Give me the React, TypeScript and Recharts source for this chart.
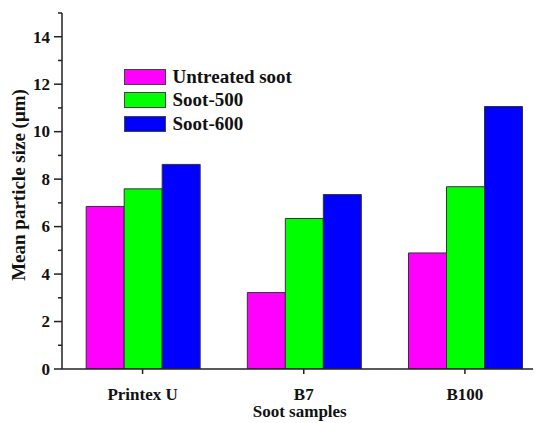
import React from 'react';
import { BarChart, Bar, XAxis, YAxis, Label } from 'recharts';

const categories = ['Printex U', 'B7', 'B100'];
const untreatedSoot = [6.85, 3.22, 4.89];
const soot500 = [7.59, 6.34, 7.68];
const soot600 = [8.62, 7.35, 11.06];
const yTicks = [0, 1, 2, 3, 4, 5, 6, 7, 8, 9, 10, 11, 12, 13, 14, 15];
const seriesKeys = ['untreated', 'soot500', 'soot600'];
const seriesNames = ['Untreated soot', 'Soot-500', 'Soot-600'];
const seriesColors = ['#FF00FF', '#00FF00', '#0000FF'];

const data = categories.map((c, i) => ({
  name: c,
  untreated: untreatedSoot[i],
  soot500: soot500[i],
  soot600: soot600[i],
}));

const FONT = '"Liberation Serif", "Times New Roman", Times, serif';
const AXIS = '#222';

const YTick = (props: any) => {
  const { x, y, payload } = props;
  const v = payload.value;
  const major = v % 2 === 0;
  return (
    <g>
      <line x1={x - (major ? 8 : 4)} x2={x} y1={y} y2={y} stroke={AXIS} strokeWidth={1.5} />
      {major && (
        <text x={x - 12} y={y} dy="0.34em" textAnchor="end" fontFamily={FONT} fontWeight="bold" fontSize={17} fill="#111">
          {v}
        </text>
      )}
    </g>
  );
};

const XTick = (props: any) => {
  const { x, y, payload } = props;
  return (
    <g>
      <line x1={x} x2={x} y1={y} y2={y + 5} stroke={AXIS} strokeWidth={1.5} />
      <text x={x} y={y + 30.5} textAnchor="middle" fontFamily={FONT} fontWeight="bold" fontSize={17} fill="#111">
        {payload.value}
      </text>
    </g>
  );
};

const YLabel = (props: any) => {
  const vb = props.viewBox || {};
  const cy = vb.y + vb.height / 2 - 6;
  return (
    <text
      transform={`translate(11, ${cy}) rotate(-90)`}
      textAnchor="middle"
      dy="0.34em"
      fontFamily={FONT}
      fontWeight="bold"
      fontSize={19}
      fill="#111"
    >
      Mean particle size (μm)
    </text>
  );
};

const XLabel = (props: any) => {
  const vb = props.viewBox || {};
  const cx = vb.x + vb.width / 2 - 4;
  return (
    <text x={cx} y={vb.y + 48} textAnchor="middle" fontFamily={FONT} fontWeight="bold" fontSize={17} fill="#111">
      Soot samples
    </text>
  );
};

export default function App() {
  return (
    <div style={{ position: 'relative', width: 533, height: 415, overflow: 'hidden', background: '#fff' }}>
      <BarChart
        width={545}
        height={415}
        data={data}
        margin={{ top: 5, right: 7.5, left: 0, bottom: 0 }}
        barCategoryGap="15%"
        barGap={0}
      >
        <XAxis
          dataKey="name"
          height={54}
          tick={<XTick />}
          tickLine={false}
          tickSize={0}
          tickMargin={0}
          axisLine={{ stroke: AXIS, strokeWidth: 1.5 }}
          interval={0}
        >
          <Label content={<XLabel />} />
        </XAxis>
        <YAxis
          width={54}
          domain={[0, 15]}
          ticks={yTicks}
          interval={0}
          tick={<YTick />}
          tickLine={false}
          tickSize={0}
          tickMargin={0}
          axisLine={{ stroke: AXIS, strokeWidth: 1.5 }}
          allowDataOverflow
        >
          <Label content={<YLabel />} />
        </YAxis>
        {seriesKeys.map((k, i) => (
          <Bar
            key={k}
            dataKey={k}
            name={seriesNames[i]}
            fill={seriesColors[i]}
            stroke="#333"
            strokeWidth={1}
            isAnimationActive={false}
          />
        ))}
      </BarChart>
      <div style={{ position: 'absolute', left: 115.5, top: 61, fontFamily: FONT, fontWeight: 'bold', fontSize: 19, color: '#111' }}>
        {seriesNames.map((n, i) => (
          <div key={n} style={{ display: 'flex', alignItems: 'center', height: 16, marginBottom: i < 2 ? 7.4 : 0, whiteSpace: 'nowrap' }}>
            <div style={{ width: 40, height: 14, background: seriesColors[i], border: '1px solid #444', marginRight: 7 }} />
            <span style={{ lineHeight: '16px' }}>{n}</span>
          </div>
        ))}
      </div>
    </div>
  );
}
